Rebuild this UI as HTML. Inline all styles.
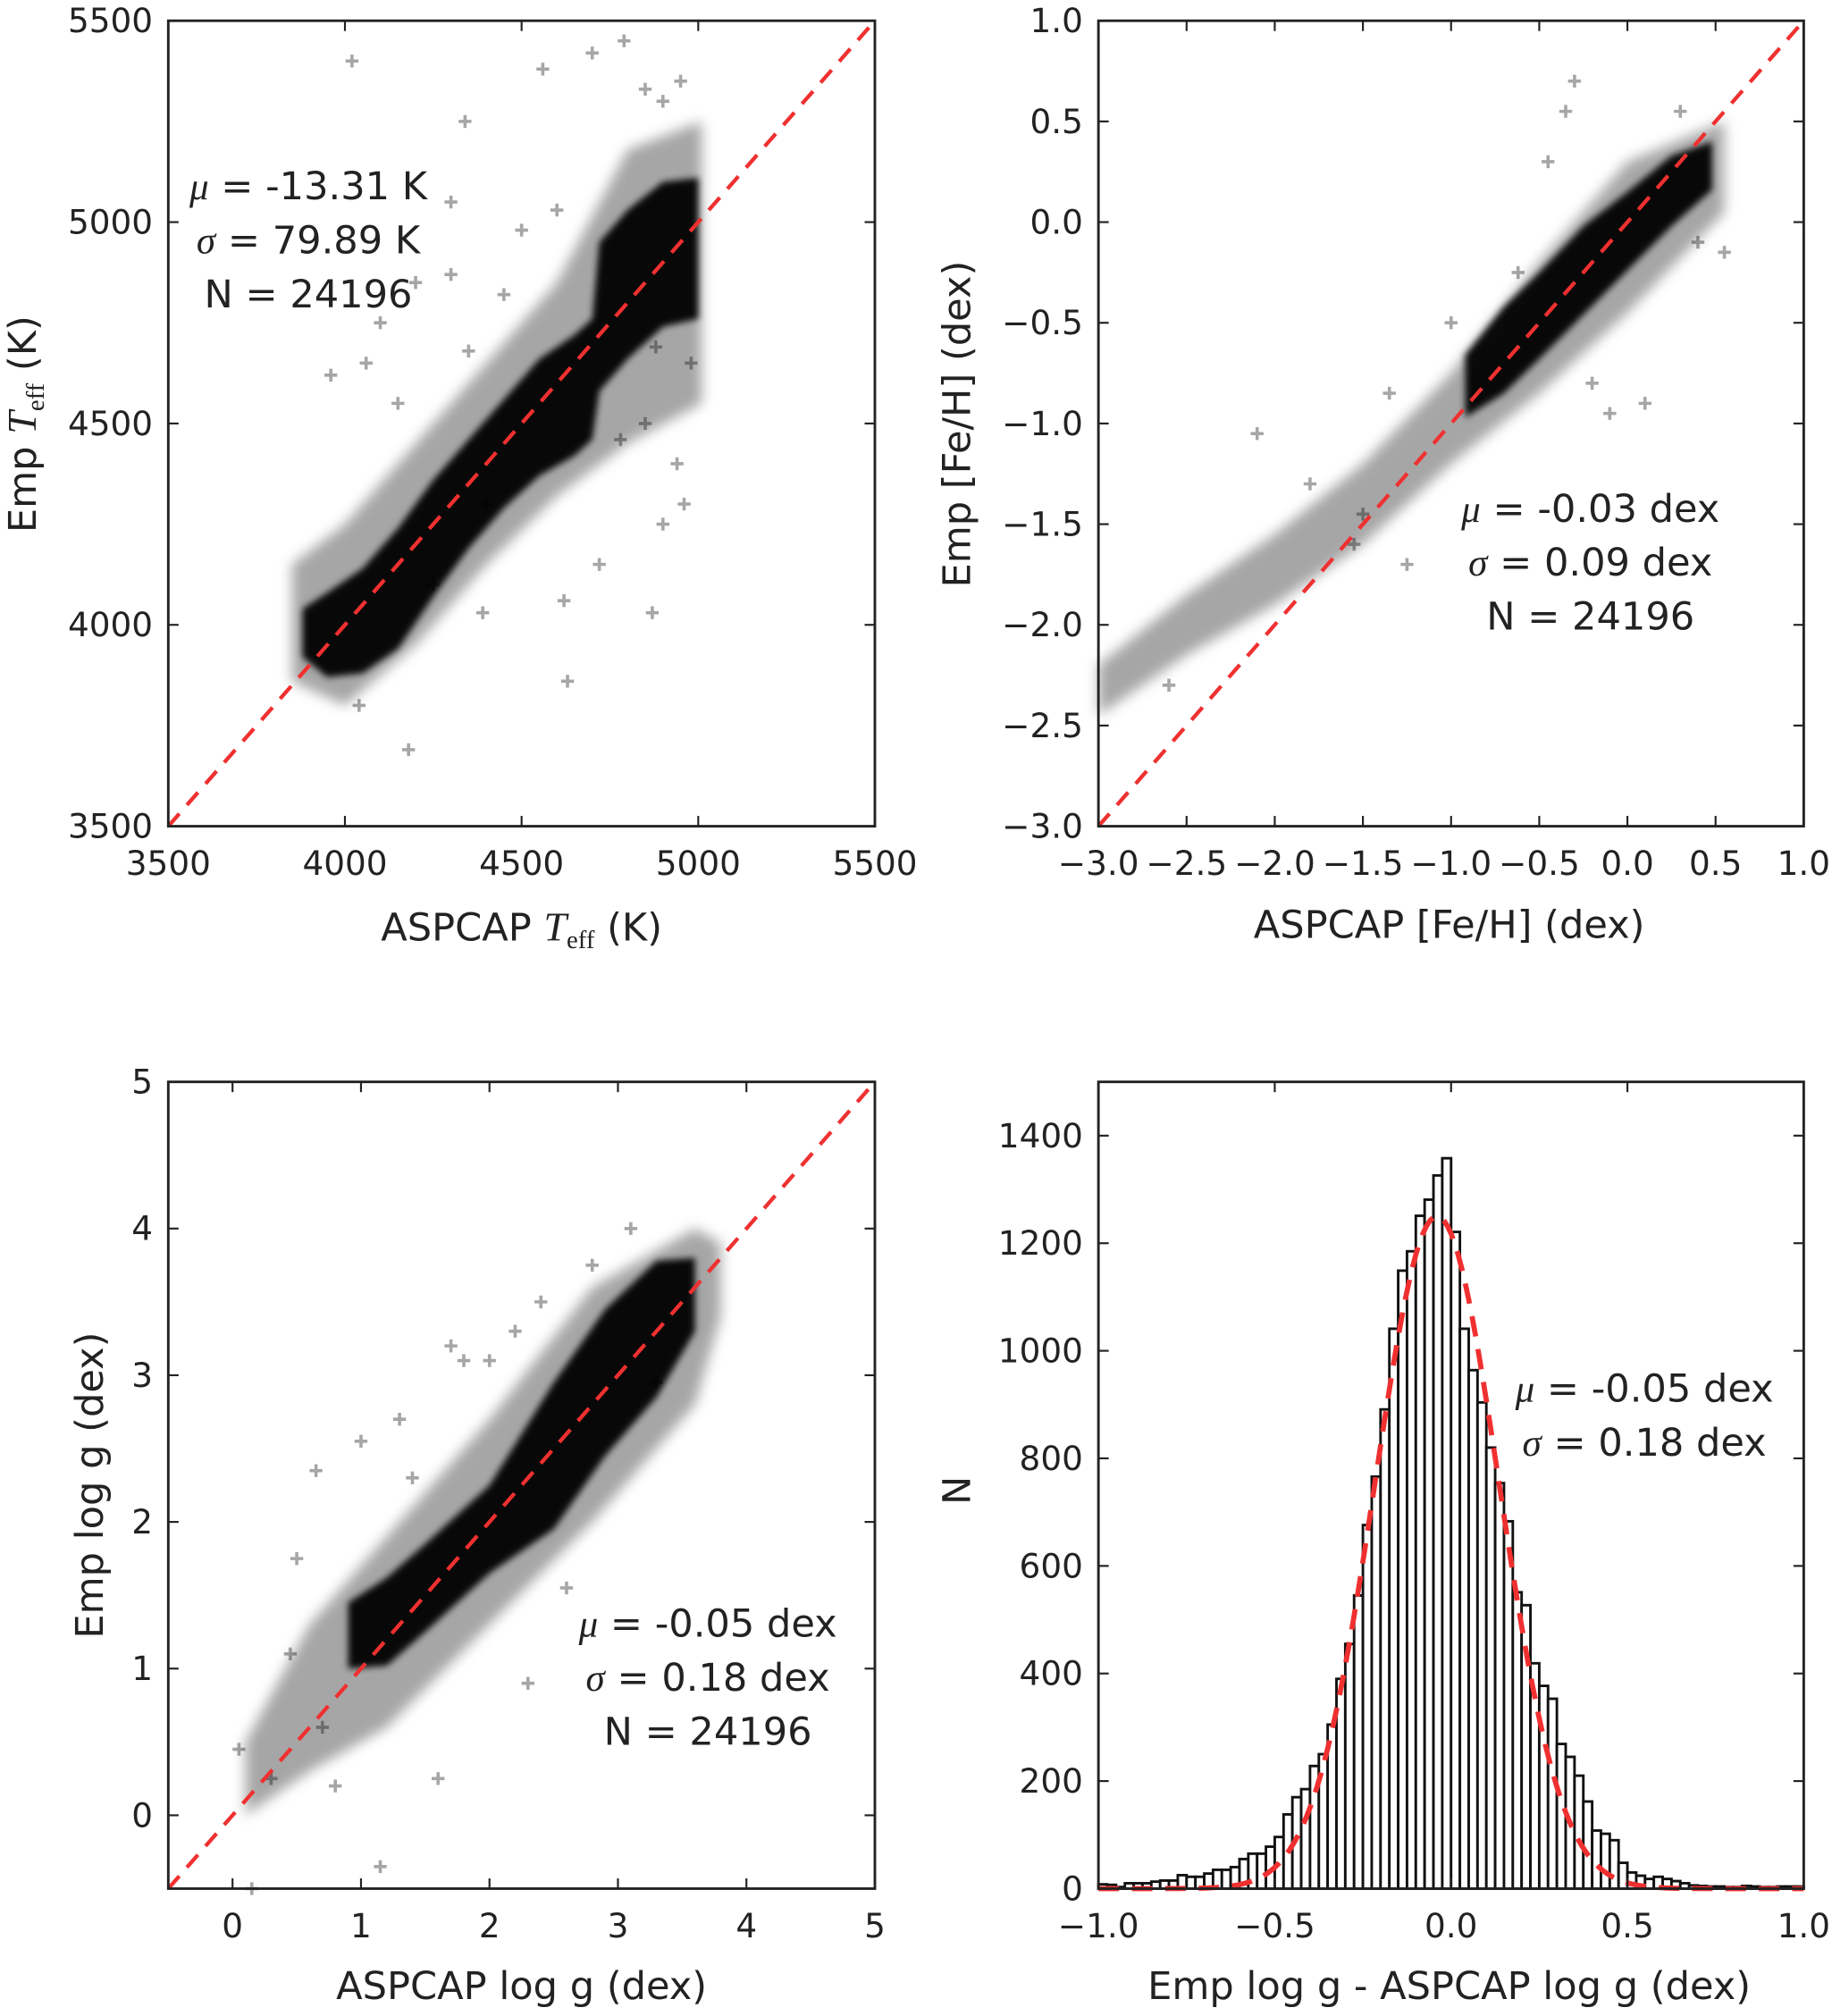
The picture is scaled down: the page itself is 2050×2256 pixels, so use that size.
<!DOCTYPE html>
<html><head><meta charset="utf-8">
<style>
html,body{margin:0;padding:0;background:#fff;}
svg{display:block;}
text{font-family:"DejaVu Sans","Liberation Sans",sans-serif;fill:#222;}
</style></head>
<body>
<svg id="fig" width="2050" height="2256" viewBox="0 0 1426 1569" xmlns="http://www.w3.org/2000/svg">
<defs>
<filter id="blur" x="-10%" y="-10%" width="120%" height="120%"><feGaussianBlur stdDeviation="5"/></filter>
<filter id="blur2" x="-10%" y="-10%" width="120%" height="120%"><feGaussianBlur stdDeviation="2.5"/></filter>
</defs>
</svg>
<script>
// ---------- Panel 1: Teff ----------
const teffCoreX = [3880,3950,4050,4150,4250,4350,4450,4550,4650,4700,4720,4800,4900,5000];
const teffCoreLo = [3920,3870,3880,3940,4070,4190,4290,4370,4420,4460,4580,4660,4740,4760];
const teffCoreHi = [4040,4080,4140,4240,4360,4460,4560,4660,4720,4760,4950,5030,5100,5110];
const teffHaloX = [3850,4000,4200,4400,4600,4800,5010];
const teffHaloLo = [3860,3800,3950,4150,4320,4450,4550];
const teffHaloHi = [4150,4250,4450,4650,4850,5180,5250];
const teffOutX = [4020,4340,4790,4850,4900,4950,4700,4560,4300,4200,4100,4060,3960,4180,4390,4630,4870,4500,4300,4250,4780,4960,4040,4620,4880,4400,4720,4940,4150,4450,4600,4850,4980,4900,4350];
const teffOutY = [5400,5250,5450,5330,5300,5350,5420,5380,5050,4850,4750,4650,4620,3690,4030,3860,4030,4980,4870,4100,4460,4300,3800,4060,4690,4300,4150,4400,4550,4820,5030,4500,4650,4250,4680];
const teffTicks = [3500,4000,4500,5000,5500];
const teffTickLabels = ["3500","4000","4500","5000","5500"];

// ---------- Panel 2: [Fe/H] ----------
const fehCoreX = [-0.92,-0.7,-0.5,-0.25,0,0.25,0.48];
const fehCoreLo = [-0.97,-0.85,-0.68,-0.46,-0.24,-0.02,0.16];
const fehCoreHi = [-0.66,-0.42,-0.25,-0.02,0.15,0.33,0.4];
const fehHaloX = [-3.0,-2.5,-2.0,-1.5,-1.0,-0.5,0.0,0.55];
const fehHaloLo = [-2.45,-2.15,-1.9,-1.6,-1.2,-0.85,-0.45,0.05];
const fehHaloHi = [-2.2,-1.85,-1.55,-1.2,-0.75,-0.2,0.3,0.5];
const fehOutX = [-2.1,-1.35,-1.8,-1.5,-1.25,-0.62,-0.35,-0.3,-0.1,0.1,0.3,0.55,-1.0,-1.55,-2.6,-0.2,-0.45,0.4];
const fehOutY = [-1.05,-0.85,-1.3,-1.45,-1.7,-0.25,0.55,0.7,-0.95,-0.9,0.55,-0.15,-0.5,-1.6,-2.3,-0.8,0.3,-0.1];
const fehTicks = [-3.0,-2.5,-2.0,-1.5,-1.0,-0.5,0.0,0.5,1.0];
const fehTickLabels = ["\u22123.0","\u22122.5","\u22122.0","\u22121.5","\u22121.0","\u22120.5","0.0","0.5","1.0"];

// ---------- Panel 3: log g ----------
const loggCoreX = [0.9,1.2,1.5,2.0,2.5,2.9,3.3,3.6];
const loggCoreLo = [1.0,1.02,1.25,1.65,1.95,2.45,2.85,3.3];
const loggCoreHi = [1.45,1.62,1.85,2.25,2.95,3.45,3.78,3.8];
const loggHaloX = [0.1,0.6,1.2,2.0,2.8,3.6,3.8];
const loggHaloLo = [0.0,0.3,0.6,1.3,2.0,2.8,3.4];
const loggHaloHi = [0.5,1.3,1.9,2.7,3.6,4.0,3.9];
const loggOutX = [0.05,0.15,0.5,0.65,1.0,1.3,1.4,1.7,2.0,2.8,3.1,2.4,1.15,0.3,0.8,2.6,3.3,1.6,2.3,0.45,0.7,1.8,2.2];
const loggOutY = [0.45,-0.5,1.75,2.35,2.55,2.7,2.3,3.2,3.1,3.75,4.0,3.5,-0.35,0.25,0.2,1.55,2.95,0.25,0.9,1.1,0.6,3.1,3.3];
const loggTicks = [0,1,2,3,4,5];
const loggTickLabels = ["0","1","2","3","4","5"];

// ---------- Panel 4: histogram ----------
const histCounts = [8,7,3,10,10,10,13,15,15,25, 22,22,28,35,35,40,55,65,65,78,
  96,138,170,185,228,250,305,390,455,545, 676,766,891,1041,1149,1185,1251,1281,1326,1358,
  1221,1041,964,904,820,754,683,551,527,419, 377,353,269,245,210,162,108,102,90,48,
  30,24,18,22,18,14,10,6,5,4, 4,3,3,5,4,3,3,4,4,4];
const histStart = [-1.0];
const histBinWidth = [0.025];
const fitParams = [-0.04, 0.175, 1250]; // mu, sigma, amplitude
const histXTicks = [-1.0,-0.5,0.0,0.5,1.0];
const histXLabels = ["\u22121.0","\u22120.5","0.0","0.5","1.0"];
const histYTicks = [0,200,400,600,800,1000,1200,1400];
const histYLabels = ["0","200","400","600","800","1000","1200","1400"];

const NS = "http://www.w3.org/2000/svg";
const svg = document.getElementById('fig');
function mk(tag, attrs, parent){ const e=document.createElementNS(NS,tag); for(const k in attrs) e.setAttribute(k,attrs[k]); (parent||svg).appendChild(e); return e; }

function axis(x0,y0,x1,y1,xmin,xmax,ymin,ymax){
  return {sx:v=>x0+(v-xmin)/(xmax-xmin)*(x1-x0), sy:v=>y1-(v-ymin)/(ymax-ymin)*(y1-y0), x0,y0,x1,y1};
}
function frame(g,a,xt,xl,yt,yl,name){
  const r=mk('rect',{x:a.x0,y:a.y0,width:a.x1-a.x0,height:a.y1-a.y0,fill:'none',stroke:'#222','stroke-width':2},g);
  
  
  xt.forEach((v,i)=>{const x=a.sx(v);
    mk('line',{x1:x,y1:a.y1,x2:x,y2:a.y1-8,stroke:'#222','stroke-width':1.5},g);
    mk('line',{x1:x,y1:a.y0,x2:x,y2:a.y0+8,stroke:'#222','stroke-width':1.5},g);
    const t=mk('text',{x:x,y:a.y1+38,'text-anchor':'middle','font-size':26},g); t.textContent=xl[i];
    
    
  });
  yt.forEach((v,i)=>{const y=a.sy(v);
    mk('line',{x1:a.x0,y1:y,x2:a.x0+8,y2:y,stroke:'#222','stroke-width':1.5},g);
    mk('line',{x1:a.x1,y1:y,x2:a.x1-8,y2:y,stroke:'#222','stroke-width':1.5},g);
    const t=mk('text',{x:a.x0-12,y:y+9,'text-anchor':'end','font-size':26},g); t.textContent=yl[i];
    
    
  });
}
function band(g,a,xs,lo,hi,op,filt,name){
  let d='M'+xs.map((x,i)=>a.sx(x)+','+a.sy(hi[i])).join(' L');
  for(let i=xs.length-1;i>=0;i--) d+=' L'+a.sx(xs[i])+','+a.sy(lo[i]);
  const p=mk('path',{d:d+'Z',fill:'#000','fill-opacity':op,filter:filt},g);
  
  
}
function pts(g,a,xs,ys){
  xs.forEach((x,i)=>{const px=a.sx(x),py=a.sy(ys[i]);
    const p=mk('path',{d:`M${px-5},${py}H${px+5}M${px},${py-5}V${py+5}`,stroke:'#000','stroke-opacity':0.35,'stroke-width':2.5},g);
    
    
  });
}
function diag(g,a,lo,hi){
  const l=mk('line',{x1:a.sx(lo),y1:a.sy(lo),x2:a.sx(hi),y2:a.sy(hi),stroke:'#f03030','stroke-width':3,'stroke-dasharray':'13,9'},g);
  
  
}
function stats(g,cx,cy,lines){
  lines.forEach((s,i)=>{
    const t=mk('text',{x:cx,y:cy+i*42,'text-anchor':'middle','font-size':30},g);
    t.innerHTML=s;
    
    
  });
}
function title(g,x,y,html,rot,name){
  const t=mk('text',{x:x,y:y,'text-anchor':'middle','font-size':30,transform:rot?`rotate(-90 ${x} ${y})`:''},g);
  t.innerHTML=html;
  
  
}
const TEFF='<tspan font-family="Liberation Serif" font-style="italic" font-size="32">T</tspan><tspan font-family="Liberation Serif" font-size="20" dy="6">eff</tspan><tspan dy="-6"> (K)</tspan>';
const MU='<tspan font-family="Liberation Serif" font-style="italic">μ</tspan>';
const SG='<tspan font-family="Liberation Serif" font-style="italic">σ</tspan>';

// Panel 1
let g=mk('g',{});  
let a=axis(131,16,681,643,3500,5500,3500,5500);
band(g,a,teffHaloX,teffHaloLo,teffHaloHi,0.35,'url(#blur)','teff-halo');
band(g,a,teffCoreX,teffCoreLo,teffCoreHi,0.95,'url(#blur2)','teff-core');
pts(g,a,teffOutX,teffOutY);
diag(g,a,3500,5500);
frame(g,a,teffTicks,teffTickLabels,teffTicks,teffTickLabels,'teff');
stats(g,240,155,[MU+' = -13.31 K',SG+' = 79.89 K','N = 24196']);
title(g,406,732,'ASPCAP '+TEFF,false,'x-axis-title');
title(g,28,330,'Emp '+TEFF,true,'y-axis-title');

// Panel 2
g=mk('g',{});  
a=axis(855,16,1404,643,-3,1,-3,1);
band(g,a,fehHaloX,fehHaloLo,fehHaloHi,0.35,'url(#blur)','feh-halo');
band(g,a,fehCoreX,fehCoreLo,fehCoreHi,0.95,'url(#blur2)','feh-core');
pts(g,a,fehOutX,fehOutY);
diag(g,a,-3,1);
frame(g,a,fehTicks,fehTickLabels,fehTicks,fehTickLabels,'feh');
stats(g,1238,406,[MU+' = -0.03 dex',SG+' = 0.09 dex','N = 24196']);
title(g,1128,730,'ASPCAP [Fe/H] (dex)',false,'x-axis-title');
title(g,755,330,'Emp [Fe/H] (dex)',true,'y-axis-title');

// Panel 3
g=mk('g',{});  
a=axis(131,842,681,1470,-0.5,5,-0.5,5);
band(g,a,loggHaloX,loggHaloLo,loggHaloHi,0.35,'url(#blur)','logg-halo');
band(g,a,loggCoreX,loggCoreLo,loggCoreHi,0.95,'url(#blur2)','logg-core');
pts(g,a,loggOutX,loggOutY);
diag(g,a,-0.5,5);
frame(g,a,loggTicks,loggTickLabels,loggTicks,loggTickLabels,'logg');
stats(g,551,1274,[MU+' = -0.05 dex',SG+' = 0.18 dex','N = 24196']);
title(g,406,1556,'ASPCAP log g (dex)',false,'x-axis-title');
title(g,80,1156,'Emp log g (dex)',true,'y-axis-title');

// Panel 4
g=mk('g',{});  
a=axis(855,842,1404,1470,-1,1,0,1500);
histCounts.forEach((c,i)=>{
  const xl=histStart[0]+i*histBinWidth[0];
  const b=mk('rect',{x:a.sx(xl),y:a.sy(c),width:a.sx(xl+histBinWidth[0])-a.sx(xl),height:a.sy(0)-a.sy(c),fill:'#fff',stroke:'#111','stroke-width':2},g);
  
  
});
let d='';
for(let v=-1;v<=1.0001;v+=0.01){const y=fitParams[2]*Math.exp(-0.5*Math.pow((v-fitParams[0])/fitParams[1],2)); d+=(d?'L':'M')+a.sx(v)+','+a.sy(y);}
const fit=mk('path',{d:d,fill:'none',stroke:'#f03030','stroke-width':4,'stroke-dasharray':'16,10'},g);


frame(g,a,histXTicks,histXLabels,histYTicks,histYLabels,'hist');
stats(g,1280,1091,[MU+' = -0.05 dex',SG+' = 0.18 dex']);
title(g,1128,1556,'Emp log g - ASPCAP log g (dex)',false,'x-axis-title');
title(g,755,1160,'N',true,'y-axis-title');
</script>
</body></html>
